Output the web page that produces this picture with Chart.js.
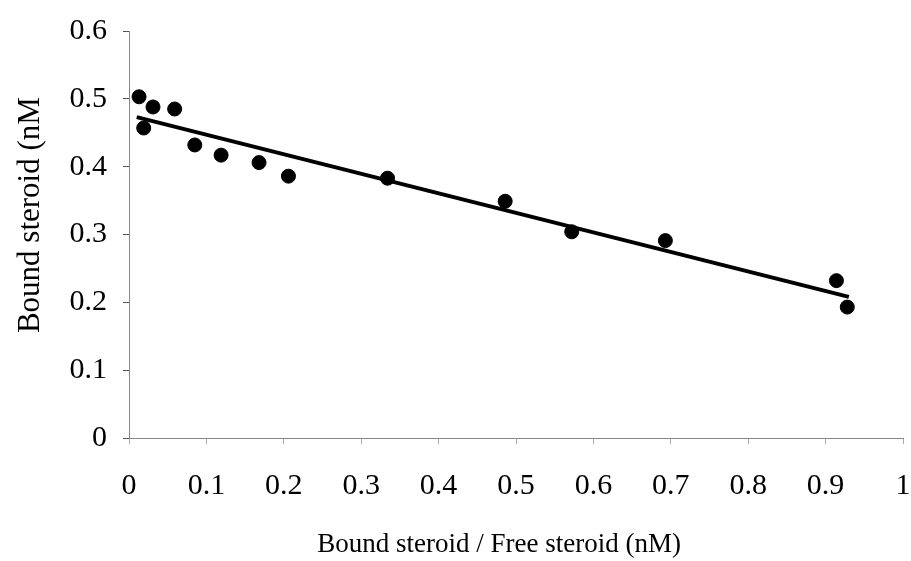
<!DOCTYPE html>
<html lang="en">
<head>
  <meta charset="UTF-8">
  <title>Bound steroid plot</title>
  <script src="https://cdn.jsdelivr.net/npm/chart.js"></script>
  <style>
    body { margin: 0; background: #ffffff; }
    #wrap { width: 911px; height: 561px; }
  </style>
</head>
<body>
  <div id="wrap"><canvas id="chart" width="911" height="561"></canvas></div>
  <script>
    // measured points (x = bound/free, y = bound)
    const ratioValues = [0.013, 0.019, 0.031, 0.059, 0.085, 0.119, 0.168, 0.206, 0.334, 0.486, 0.572, 0.693, 0.914, 0.928];
    const boundValues = [0.503, 0.457, 0.488, 0.485, 0.432, 0.417, 0.406, 0.386, 0.383, 0.349, 0.304, 0.291, 0.232, 0.193];

    // fitted line end points
    const fitX = [0.01, 0.93];
    const fitY = [0.473, 0.208];

    const xTickLabels = ['0', '0.1', '0.2', '0.3', '0.4', '0.5', '0.6', '0.7', '0.8', '0.9', '1'];
    const yTickLabels = ['0', '0.1', '0.2', '0.3', '0.4', '0.5', '0.6'];

    const serif = "'Liberation Serif', 'DejaVu Serif', serif";

    const points = ratioValues.map((x, i) => ({ x: x, y: boundValues[i] }));
    const fitLine = fitX.map((x, i) => ({ x: x, y: fitY[i] }));

    new Chart(document.getElementById('chart').getContext('2d'), {
      type: 'scatter',
      data: {
        datasets: [
          {
            type: 'line',
            data: fitLine,
            borderColor: '#000',
            borderWidth: 4,
            pointRadius: 0,
            fill: false
          },
          {
            data: points,
            backgroundColor: '#000',
            borderColor: '#000',
            pointRadius: 7,
            pointHoverRadius: 7
          }
        ]
      },
      options: {
        responsive: false,
        animation: false,
        layout: { padding: { left: 0, right: 6, top: 31, bottom: 0 } },
        plugins: { legend: { display: false }, tooltip: { enabled: false } },
        scales: {
          x: {
            type: 'linear',
            min: 0,
            max: 1,
            afterFit: (s) => { s.height = 123; s.paddingRight = 0; s.paddingLeft = 0; },
            border: { display: true, color: '#888', width: 1, dash: [7, 3] },
            grid: { drawOnChartArea: false, drawTicks: true, tickLength: 6, color: '#aaa' },
            ticks: {
              stepSize: 0.1,
              padding: 24,
              color: '#000',
              maxRotation: 0,
              font: { family: serif, size: 30 },
              callback: (v, i) => xTickLabels[i]
            },
            title: {
              display: true,
              text: 'Bound steroid / Free steroid (nM)     ',
              color: '#000',
              font: { family: serif, size: 27 },
              padding: { top: 0, bottom: 0 }
            }
          },
          y: {
            type: 'linear',
            min: 0,
            max: 0.6,
            afterFit: (s) => { s.width = 129; s.paddingTop = 0; s.paddingBottom = 0; },
            border: { display: true, color: '#888', width: 1, dash: [7, 3] },
            grid: { drawOnChartArea: false, drawTicks: true, tickLength: 6, color: '#555' },
            ticks: {
              stepSize: 0.1,
              padding: 16,
              color: '#000',
              font: { family: serif, size: 30 },
              callback: (v, i) => yTickLabels[i]
            },
            title: {
              display: true,
              text: '     Bound steroid (nM',
              color: '#000',
              font: { family: serif, size: 31 },
              padding: { top: 12, bottom: 0 }
            }
          }
        }
      }
    });
  </script>
</body>
</html>
